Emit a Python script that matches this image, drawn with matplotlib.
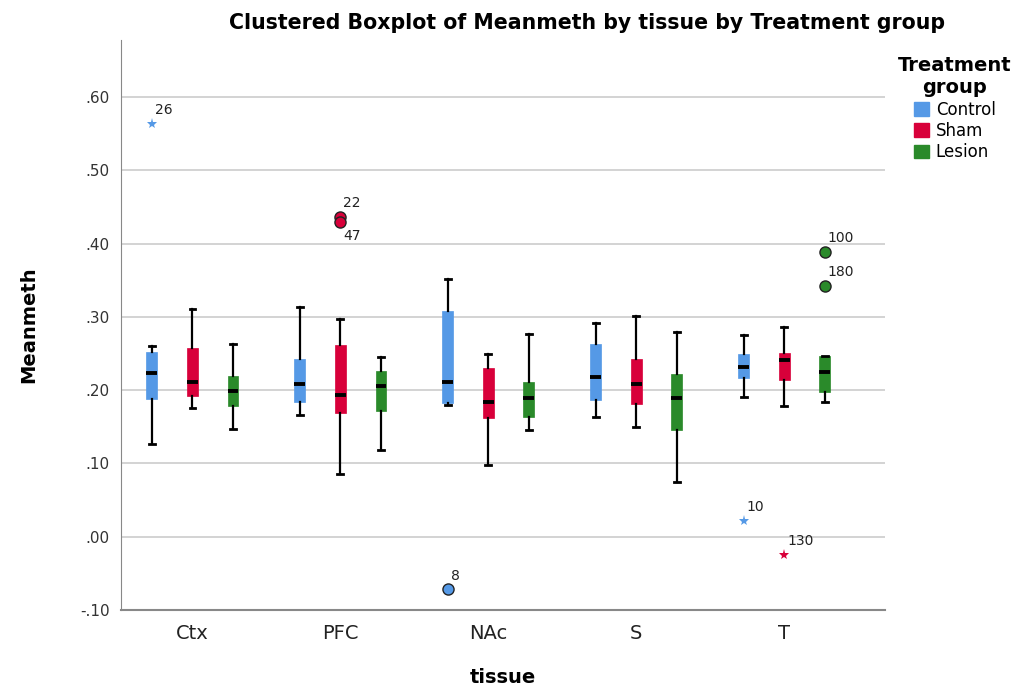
import matplotlib
matplotlib.use("Agg")
import matplotlib.pyplot as plt
from matplotlib.patches import Patch
from matplotlib.ticker import FuncFormatter

# tissue categories and treatment groups
tissues = ['Ctx', 'PFC', 'NAc', 'S', 'T']
groups = ['Control', 'Sham', 'Lesion']
colors = {'Control': '#5599e6', 'Sham': '#d8003a', 'Lesion': '#2a8a2a'}

# box statistics per group, one value per tissue
whis_hi = {'Control': [0.260, 0.313, 0.352, 0.292, 0.275],
           'Sham':    [0.311, 0.297, 0.250, 0.301, 0.286],
           'Lesion':  [0.263, 0.245, 0.277, 0.280, 0.247]}
q3 = {'Control': [0.252, 0.243, 0.308, 0.263, 0.249],
      'Sham':    [0.257, 0.262, 0.230, 0.243, 0.251],
      'Lesion':  [0.220, 0.226, 0.211, 0.222, 0.247]}
median = {'Control': [0.223, 0.208, 0.211, 0.218, 0.231],
          'Sham':    [0.211, 0.193, 0.184, 0.209, 0.241],
          'Lesion':  [0.199, 0.206, 0.190, 0.189, 0.225]}
q1 = {'Control': [0.188, 0.184, 0.182, 0.186, 0.217],
      'Sham':    [0.192, 0.169, 0.162, 0.181, 0.214],
      'Lesion':  [0.179, 0.172, 0.164, 0.145, 0.197]}
whis_lo = {'Control': [0.127, 0.166, 0.180, 0.163, 0.191],
           'Sham':    [0.176, 0.086, 0.098, 0.150, 0.178],
           'Lesion':  [0.147, 0.119, 0.146, 0.074, 0.184]}

# outliers: (group, tissue, value, case label, kind, label side)
outliers = [
    ('Control', 'Ctx', 0.563, '26', 'extreme', 'up'),
    ('Sham', 'PFC', 0.437, '22', 'out', 'up'),
    ('Sham', 'PFC', 0.430, '47', 'out', 'down'),
    ('Control', 'NAc', -0.072, '8', 'out', 'up'),
    ('Control', 'T', 0.021, '10', 'extreme', 'up'),
    ('Sham', 'T', -0.025, '130', 'extreme', 'up'),
    ('Lesion', 'T', 0.388, '100', 'out', 'up'),
    ('Lesion', 'T', 0.342, '180', 'out', 'up'),
]

offsets = {'Control': -0.274, 'Sham': 0.0, 'Lesion': 0.274}
box_w = 0.074

fig = plt.figure(figsize=(10.21, 6.88), dpi=100)
ax = fig.add_axes([0.1185, 0.1134, 0.7483, 0.8285])

for g in groups:
    stats = []
    for i in range(len(tissues)):
        stats.append({'med': median[g][i], 'q1': q1[g][i], 'q3': q3[g][i],
                      'whislo': whis_lo[g][i], 'whishi': whis_hi[g][i],
                      'fliers': []})
    pos = [i + offsets[g] for i in range(len(tissues))]
    ax.bxp(stats, positions=pos, widths=box_w, capwidths=0.04,
           showfliers=False, patch_artist=True, manage_ticks=False,
           boxprops=dict(facecolor=colors[g], edgecolor=colors[g], linewidth=0.5),
           medianprops=dict(color='black', linewidth=2.8, solid_capstyle='butt'),
           whiskerprops=dict(color='black', linewidth=1.6),
           capprops=dict(color='black', linewidth=2.0),
           zorder=3)

for g, t, v, lab, kind, side in outliers:
    x = tissues.index(t) + offsets[g]
    if kind == 'extreme':
        ax.plot(x, v, marker='*', color=colors[g], markersize=8,
                markeredgewidth=0, linestyle='none', zorder=4)
    else:
        ax.plot(x, v, marker='o', markerfacecolor=colors[g],
                markeredgecolor='#222222', markeredgewidth=1.0,
                markersize=8, linestyle='none', zorder=4)
    if side == 'up':
        ax.annotate(lab, (x, v), xytext=(2, 5), textcoords='offset points',
                    ha='left', va='bottom', fontsize=10, color='#222222')
    else:
        ax.annotate(lab, (x, v), xytext=(2, -5), textcoords='offset points',
                    ha='left', va='top', fontsize=10, color='#222222')

ax.set_xlim(-0.483, 4.68)
ax.set_ylim(-0.10, 0.678)
ax.set_yticks([-0.1, 0.0, 0.1, 0.2, 0.3, 0.4, 0.5, 0.6])
ax.yaxis.set_major_formatter(FuncFormatter(
    lambda v, p: f"{v:.2f}".replace('0.', '.', 1)))
ax.set_xticks(range(len(tissues)))
ax.set_xticklabels(tissues, fontsize=14, color='#222222')
ax.tick_params(axis='y', labelsize=11, colors='#333333', length=0, pad=8)
ax.tick_params(axis='x', length=0, pad=10)
ax.grid(axis='y', color='#cccccc', linewidth=1.2, zorder=0)
ax.set_axisbelow(True)
for s in ['top', 'right']:
    ax.spines[s].set_visible(False)
ax.spines['left'].set_color('#888888')
ax.spines['bottom'].set_color('#888888')
ax.spines['bottom'].set_linewidth(1.5)

ax.set_xlabel('tissue', fontsize=14, fontweight='bold', labelpad=18)
ax.set_ylabel('Meanmeth', fontsize=14, fontweight='bold', labelpad=30)
fig.text(0.575, 0.967, 'Clustered Boxplot of Meanmeth by tissue by Treatment group',
         ha='center', va='center', fontsize=14.8, fontweight='bold')

handles = [Patch(facecolor=colors[g], edgecolor=colors[g]) for g in groups]
leg = fig.legend(handles, groups, title='Treatment\ngroup', loc='upper left',
                 bbox_to_anchor=(0.865, 0.94), frameon=False, fontsize=12,
                 title_fontproperties={'weight': 'bold', 'size': 14},
                 handlelength=0.9, handleheight=0.9, handletextpad=0.4,
                 labelspacing=0.2)
leg.get_title().set_multialignment('center')

fig.savefig('out.png', dpi=100)
